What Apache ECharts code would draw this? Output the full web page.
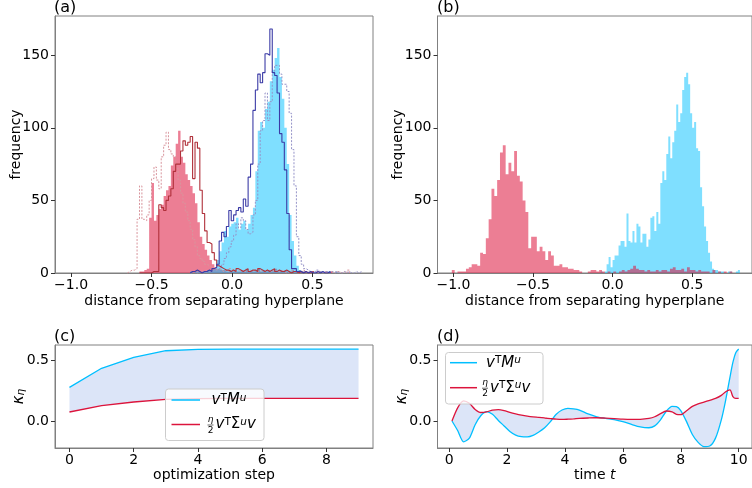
<!DOCTYPE html>
<html><head><meta charset="utf-8">
<script src="https://cdn.jsdelivr.net/npm/echarts@6/dist/echarts.min.js"></script>
<style>html,body{margin:0;padding:0;background:#fff}#c{width:752px;height:488px}</style>
</head><body><div id="c"></div>
<script>
// ---------------- DATA ----------------
// panel (a) histograms (bin width 0.015)
const binA = 0.015;
const redA_x0 = -0.575;
const redA = [1,1,2,3,38,62,36,40,44,47,53,57,60,74,80,89,98,80,76,68,64,60,55,48,35,25,20,16,12,9,6,4,3,3,2,2,1,2,1,2,1,1,2,1,3,1,2,1,2,3,1,2,1,2,1,2,3,1,2,1,2,1,1,2,1,1,2,1,1,0,1,1,0,1,0,1,0,1,0,1,0,1];
const blueA_x0 = -0.26;
const blueA = [1,0,1,1,0,1,1,2,2,2,3,9,15,21,29,25,32,34,35,38,30,34,36,30,34,40,45,70,98,104,100,113,118,132,140,148,155,135,120,100,75,40,22,12,5,2,1,1,0,1,0,1,0,0,1,0,0,1,0,0,1];
const darkRedA_x0 = -0.575;
const darkRedA = [0,0,0,0,0,1,1,1,47,45,43,50,53,58,70,75,75,84,91,88,90,94,65,90,86,57,41,29,21,20,14,9,5,4,3,2,2,1,2,1,3,2,1,2,3,1,2,2,1,3,2,1,2,1,2,3,1,2,1,1,2,1,0,1,1,0,1,0,1,0,0,1];
const navyA_x0 = -0.26;
const navyA = [1,1,2,1,0,1,1,2,1,3,4,6,22,28,25,32,43,36,40,43,45,42,51,46,66,75,112,126,137,131,138,151,150,168,138,136,124,96,90,71,41,16,3,3,1,1,0,1,0,1,0,0,1,0,1,0,0,1];
const pinkDotA_x0 = -0.65;
const pinkDotA = [1,2,2,3,37,60,37,36,40,50,65,73,64,58,80,88,97,85,82,80,72,64,55,48,42,36,30,23,18,12,10,8,6,5,4,3,2,3,2,1,2,1,3,2,1,2,1,2,1,1,2,1,2,3,1,2,1,2,1,1,2,1,1,2,1,0,1,2,1,1,0,1,2,1,0,1,1,0,1,1,0,1,0,1,1,0,1,1,0,1,0,2];
const lavDotA_x0 = -0.26;
const lavDotA = [0,1,0,1,0,0,1,1,1,2,2,3,4,6,10,14,18,22,26,34,31,38,36,30,27,28,40,50,75,98,105,124,105,118,139,143,143,137,130,130,125,110,85,60,25,12,6,3,2,1,1,0,2,1,0,1,1,0,1,0,1,0,0,1,0,1,0,0,1,0,1];
// panel (b) histograms
const binRedB = 0.0178;
const redB_x0 = -1.01;
const redB = [2,0,1,1,1,3,4,6,6,5,14,13,24,37,58,53,64,83,88,68,76,70,84,67,63,50,42,17,25,25,15,18,15,9,15,12,5,5,6,4,4,3,3,2,2,1,0,0,1,2,2,1,2,1,0,1,0,1,0,1,2,1,2,3,5,3,2,2,1,2,1,1,2,1,2,2,1,3,4,2,2,3,1,4,2,2,1,2,1,1,1,0,2,0,1,0,1,0,1,0];
const binBlueB = 0.0125;
const blueB_x0 = -0.10;
const blueB = [0,0,1,0,1,6,11,4,9,12,12,19,22,22,18,41,22,21,29,21,34,32,21,27,27,18,23,38,39,29,42,34,62,70,64,82,94,79,90,98,116,104,110,126,135,138,130,110,100,104,86,84,59,46,32,22,14,8,3,2,2,1,1,1,0,0,1,1,0,0,1,2];
// panel (c)
const optSteps = [0,1,2,3,4,5,6,7,8,9];
const cM = [0.276,0.432,0.522,0.576,0.587,0.59,0.59,0.59,0.59,0.59];
const cS = [0.074,0.126,0.156,0.178,0.184,0.186,0.186,0.186,0.186,0.186];
// panel (d)
const tD = [0.1,0.3,0.5,0.7,0.9,1.1,1.3,1.5,1.7,1.9,2.1,2.3,2.5,2.7,2.9,3.1,3.3,3.5,3.7,3.9,4.1,4.3,4.5,4.8,5.1,5.4,5.7,6.0,6.3,6.6,6.9,7.1,7.3,7.5,7.7,7.85,8.0,8.2,8.4,8.6,8.8,9.0,9.2,9.4,9.55,9.7,9.8,9.9,10.0];
const dM = [0.0,-0.08,-0.17,-0.14,-0.03,0.045,0.077,0.055,0.005,-0.04,-0.085,-0.115,-0.128,-0.13,-0.118,-0.09,-0.055,-0.005,0.055,0.09,0.104,0.1,0.09,0.058,0.035,0.022,0.012,-0.005,-0.028,-0.048,-0.055,-0.04,0.01,0.08,0.12,0.118,0.085,-0.005,-0.11,-0.175,-0.21,-0.205,-0.14,0.01,0.17,0.36,0.48,0.56,0.59];
const dS = [0.0,0.11,0.165,0.145,0.095,0.07,0.075,0.09,0.093,0.085,0.07,0.058,0.048,0.04,0.034,0.03,0.025,0.02,0.015,0.013,0.015,0.018,0.022,0.025,0.027,0.024,0.02,0.015,0.013,0.014,0.022,0.035,0.06,0.082,0.075,0.055,0.052,0.085,0.12,0.14,0.155,0.17,0.185,0.21,0.24,0.255,0.2,0.185,0.185];
// ticks
const histTicks = [-1.0,-0.5,0.0,0.5];
const freqTicks = [0,50,100,150];
const stepTicks = [0,2,4,6,8];
const timeTicks = [0,2,4,6,8,10];
const kTicks = [0,0.5];

// ---------------- HELPERS ----------------
const FONT = 'DejaVu Sans';
const BLUE = '#00bfff', RED = '#dc143c', BAND = '#dce5f8';
function stepData(x0, w, counts) {
  const pts = [[x0, 0]];
  counts.forEach((c, i) => { pts.push([x0 + i * w, c]); pts.push([x0 + (i + 1) * w, c]); });
  pts.push([x0 + counts.length * w, 0]);
  return pts;
}
function histFillSeries(idx, x0, w, counts, fill, z) {
  const pts = stepData(x0, w, counts);
  return {
    type: 'custom', xAxisIndex: idx, yAxisIndex: idx, silent: true, z: z,
    data: [[x0, 0]], encode: { x: 0, y: 1 },
    renderItem: function (params, api) {
      return { type: 'polygon', shape: { points: pts.map(p => api.coord(p)) }, style: { fill: fill } };
    }
  };
}
function stepSeries(idx, x0, w, counts, color, type, width, z) {
  return {
    type: 'line', xAxisIndex: idx, yAxisIndex: idx, silent: true, z: z,
    data: stepData(x0, w, counts), symbol: 'none', showSymbol: false,
    lineStyle: { color: color, width: width, type: type }
  };
}
function bandSeries(idx, xs, ya, yb) {
  return {
    type: 'custom', xAxisIndex: idx, yAxisIndex: idx, silent: true, z: 1,
    data: [[xs[0], ya[0]]], encode: { x: 0, y: 1 },
    renderItem: function (params, api) {
      const top = xs.map((x, i) => api.coord([x, ya[i]]));
      const bot = xs.map((x, i) => api.coord([x, yb[i]])).reverse();
      return { type: 'polygon', shape: { points: top.concat(bot) }, style: { fill: BAND } };
    }
  };
}
const fmt1 = v => (v < 0 ? '\u2212' : '') + Math.abs(v).toFixed(1);
const fmt0 = v => String(Math.round(v));
const AXC = '#808080';
function xAx(gi, min, max, ticks, fmt, name, gap) {
  return {
    type: 'value', gridIndex: gi, min: min, max: max,
    axisLine: { show: true, onZero: false, lineStyle: { color: AXC, width: 1 } },
    axisTick: { show: true, length: 4, inside: false, lineStyle: { color: '#333', width: 1 }, customValues: ticks },
    axisLabel: { fontSize: 14, color: '#000', fontFamily: FONT, margin: 5, customValues: ticks, formatter: fmt },
    splitLine: { show: false },
    name: name, nameLocation: 'middle', nameGap: gap, nameMoveOverlap: false,
    nameTextStyle: { fontSize: 14, color: '#000', fontFamily: FONT, rich: { it: { fontSize: 14, fontStyle: 'italic', fontFamily: FONT, color: '#000' } } }
  };
}
function yAx(gi, min, max, ticks, fmt, name, gap, rich) {
  return {
    type: 'value', gridIndex: gi, min: min, max: max,
    axisLine: { show: true, onZero: false, lineStyle: { color: AXC, width: 1 } },
    axisTick: { show: true, length: 4, inside: false, lineStyle: { color: '#333', width: 1 }, customValues: ticks },
    axisLabel: { fontSize: 14, color: '#000', fontFamily: FONT, margin: 6, customValues: ticks, formatter: fmt },
    splitLine: { show: false },
    name: name, nameLocation: 'middle', nameGap: gap, nameMoveOverlap: false,
    nameTextStyle: { fontSize: 14, color: '#000', fontFamily: FONT, rich: rich }
  };
}
const kRich = {
  k: { fontSize: 15, fontStyle: 'italic', fontFamily: FONT, color: '#000' },
  s: { fontSize: 10.5, fontStyle: 'italic', fontFamily: FONT, color: '#000', verticalAlign: 'bottom' }
};

// ---------------- SERIES ----------------
const series = [];
series.push(histFillSeries(0, redA_x0, binA, redA, 'rgba(220,20,60,0.55)', 2));
series.push(histFillSeries(0, blueA_x0, binA, blueA, 'rgba(0,191,255,0.5)', 2));
series.push(stepSeries(0, pinkDotA_x0, binA, pinkDotA, '#d8959d', [2, 1.5], 1, 3));
series.push(stepSeries(0, lavDotA_x0, binA, lavDotA, '#9593c8', [2, 1.5], 1, 3));
series.push(stepSeries(0, darkRedA_x0, binA, darkRedA, '#b0303a', 'solid', 1.1, 4));
series.push(stepSeries(0, navyA_x0, binA, navyA, '#3b3ba6', 'solid', 1.1, 4));
series.push(histFillSeries(1, blueB_x0, binBlueB, blueB, 'rgba(0,191,255,0.5)', 2));
series.push(histFillSeries(1, redB_x0, binRedB, redB, 'rgba(220,20,60,0.55)', 2));
series.push(bandSeries(2, optSteps, cM, cS));
series.push({ type: 'line', xAxisIndex: 2, yAxisIndex: 2, symbol: 'none', silent: true,
  data: optSteps.map((s, i) => [s, cM[i]]), lineStyle: { color: BLUE, width: 1.3 }, z: 3 });
series.push({ type: 'line', xAxisIndex: 2, yAxisIndex: 2, symbol: 'none', silent: true,
  data: optSteps.map((s, i) => [s, cS[i]]), lineStyle: { color: RED, width: 1.3 }, z: 3 });
const SM = 0.25;
series.push(bandSeries(3, tD, dM, dS));
series.push({ type: 'line', xAxisIndex: 3, yAxisIndex: 3, symbol: 'none', silent: true, smooth: SM,
  data: tD.map((t, i) => [t, dM[i]]), lineStyle: { color: BLUE, width: 1.3 }, z: 3 });
series.push({ type: 'line', xAxisIndex: 3, yAxisIndex: 3, symbol: 'none', silent: true, smooth: SM,
  data: tD.map((t, i) => [t, dS[i]]), lineStyle: { color: RED, width: 1.3 }, z: 3 });

// ---------------- LEGENDS / LABELS (graphic) ----------------
const mathRich = {
  i: { fontSize: 15, fontStyle: 'italic', fontFamily: FONT, fill: '#000' },
  r: { fontSize: 15, fontFamily: FONT, fill: '#000' },
  u: { fontSize: 10.5, fontFamily: FONT, fill: '#000', verticalAlign: 'top' },
  ui: { fontSize: 10.5, fontStyle: 'italic', fontFamily: FONT, fill: '#000', verticalAlign: 'top' }
};
function legendGroup(bx, by, bw, bh, lx0, lx1, ly1, ly2, tx) {
  return [
    { type: 'rect', shape: { x: bx, y: by, width: bw, height: bh, r: 3 }, style: { fill: 'rgba(255,255,255,0.8)', stroke: '#cccccc', lineWidth: 1 }, z: 100 },
    { type: 'line', shape: { x1: lx0, y1: ly1, x2: lx1, y2: ly1 }, style: { stroke: BLUE, lineWidth: 1.5 }, z: 101 },
    { type: 'line', shape: { x1: lx0, y1: ly2, x2: lx1, y2: ly2 }, style: { stroke: RED, lineWidth: 1.5 }, z: 101 },
    { type: 'text', x: tx, y: ly1, style: { text: '{i|v}{u|T}{i|M}{ui|u}', rich: mathRich, verticalAlign: 'middle', align: 'left' }, z: 101 },
    { type: 'text', x: tx - 1, y: ly2 - 5, style: { text: 'η', font: 'italic 9px ' + FONT, fill: '#000', align: 'center', verticalAlign: 'middle' }, z: 101 },
    { type: 'text', x: tx - 1, y: ly2 + 6, style: { text: '2', font: '9px ' + FONT, fill: '#000', align: 'center', verticalAlign: 'middle' }, z: 101 },
    { type: 'line', shape: { x1: tx - 4, y1: ly2 + 0.5, x2: tx + 2, y2: ly2 + 0.5 }, style: { stroke: '#000', lineWidth: 0.6 }, z: 101 },
    { type: 'text', x: tx + 4, y: ly2, style: { text: '{i|v}{u|T}{r|Σ}{ui|u}{i|v}', rich: mathRich, verticalAlign: 'middle', align: 'left' }, z: 101 }
  ];
}
function panelLabel(txt, x, y) {
  return { type: 'text', x: x, y: y, style: { text: txt, font: '16px ' + FONT, fill: '#000', align: 'left', verticalAlign: 'middle' }, z: 100 };
}
const graphics = [
  panelLabel('(a)', 54, 7.5), panelLabel('(b)', 437, 7.5), panelLabel('(c)', 54, 337), panelLabel('(d)', 437, 337)
].concat(legendGroup(165.5, 389, 98.5, 51.5, 171.5, 200, 400, 424.5, 211.5))
 .concat(legendGroup(445.5, 352.5, 97.5, 51.5, 450, 477, 362.7, 387.7, 486));

// ---------------- OPTION ----------------
const gridStyle = { show: true, borderColor: AXC, borderWidth: 1, backgroundColor: 'transparent', containLabel: false };
const option = {
  animation: false,
  textStyle: { fontFamily: FONT },
  grid: [
    Object.assign({ left: 55, top: 16, width: 318, height: 257 }, gridStyle),
    Object.assign({ left: 437.5, top: 16, width: 318, height: 257 }, gridStyle),
    Object.assign({ left: 55, top: 345, width: 318, height: 103 }, gridStyle),
    Object.assign({ left: 437.5, top: 345, width: 318, height: 103 }, gridStyle)
  ],
  xAxis: [
    xAx(0, -1.1, 0.876, histTicks, fmt1, 'distance from separating hyperplane', 21),
    xAx(1, -1.1, 0.876, histTicks, fmt1, 'distance from separating hyperplane', 21),
    xAx(2, -0.45, 9.45, stepTicks, fmt0, 'optimization step', 20),
    xAx(3, -0.4, 10.46, timeTicks, fmt0, 'time {it|t}', 20)
  ],
  yAxis: [
    yAx(0, 0, 177, freqTicks, fmt0, 'frequency', 32),
    yAx(1, 0, 177, freqTicks, fmt0, 'frequency', 32),
    yAx(2, -0.221, 0.623, kTicks, fmt1, '{k|κ}{s|η}', 28, kRich),
    yAx(3, -0.221, 0.623, kTicks, fmt1, '{k|κ}{s|η}', 28, kRich)
  ],
  series: series,
  graphic: graphics
};
const chart = echarts.init(document.getElementById('c'), null, { renderer: 'canvas' });
chart.setOption(option);
</script>
</body></html>
